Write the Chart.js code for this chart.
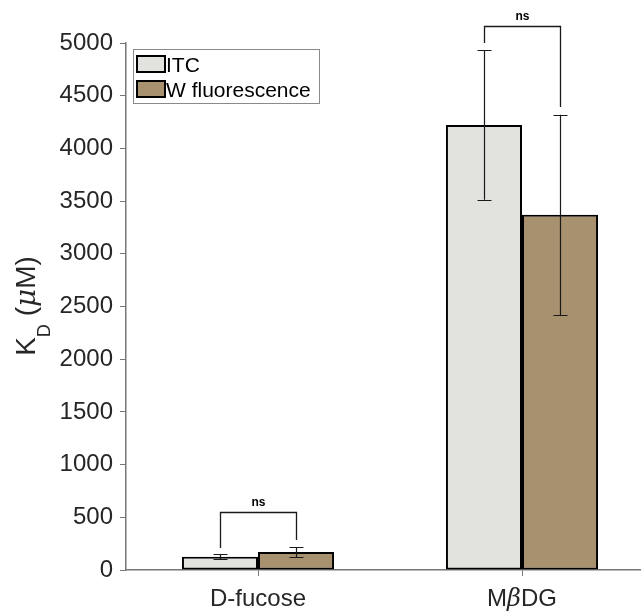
<!DOCTYPE html>
<html>
<head>
<meta charset="utf-8">
<script src="https://cdn.jsdelivr.net/npm/chart.js@4"></script>
<style>
  html, body { margin: 0; padding: 0; background: #fff; overflow: hidden; }
  #wrap { width: 641px; height: 613px; overflow: hidden; }
</style>
</head>
<body>
<div id="wrap"><canvas id="c" width="660" height="613"></canvas></div>
<script>
// ---- data ----
const categories = ['D-fucose', 'MβDG'];
const seriesNames = ['ITC', 'W fluorescence'];
const itcValues = [125, 4222];
const itcErrors = [25, 710];
const wValues = [171, 3370];
const wErrors = [48, 950];
const yTicks = [0, 500, 1000, 1500, 2000, 2500, 3000, 3500, 4000, 4500, 5000];
// significance brackets: top value, left leg end, right leg end, label
const bracketTop = [550, 5165];
const bracketLeftEnd = [209, 5000];
const bracketRightEnd = [285, 4393];
const bracketLabels = ['ns', 'ns'];

const colors = ['#e2e3df', '#a8916f'];
const FONT = '"Liberation Sans", Arial, Helvetica, sans-serif';

function drawRich(ctx, parts, x, y, align) {
  let total = 0;
  parts.forEach(p => { ctx.font = p[1]; total += ctx.measureText(p[0]).width; });
  let pos = align === 'center' ? x - total / 2 : x;
  ctx.textAlign = 'left';
  parts.forEach(p => {
    ctx.font = p[1];
    ctx.fillText(p[0], pos, y + (p[2] || 0));
    pos += ctx.measureText(p[0]).width;
  });
}

const errorPlugin = {
  id: 'errs',
  afterDatasetsDraw(chart) {
    const ctx = chart.ctx;
    const y = chart.scales.y;
    const errs = [itcErrors, wErrors];
    ctx.save();
    ctx.strokeStyle = '#1a1a1a';
    ctx.lineWidth = 1.2;
    chart.data.datasets.forEach((ds, di) => {
      const meta = chart.getDatasetMeta(di);
      meta.data.forEach((bar, i) => {
        const v = ds.data[i], e = errs[di][i];
        const x = Math.round(bar.x) + 0.5;
        const yl = y.getPixelForValue(v - e), yh = y.getPixelForValue(v + e);
        ctx.beginPath();
        ctx.moveTo(x, yl); ctx.lineTo(x, yh);
        ctx.moveTo(x - 7, Math.round(yl) + 0.5); ctx.lineTo(x + 7, Math.round(yl) + 0.5);
        ctx.moveTo(x - 7, Math.round(yh) + 0.5); ctx.lineTo(x + 7, Math.round(yh) + 0.5);
        ctx.stroke();
      });
    });
    // brackets
    const m0 = chart.getDatasetMeta(0), m1 = chart.getDatasetMeta(1);
    ctx.lineWidth = 1.3;
    categories.forEach((c, i) => {
      const x0 = Math.round(m0.data[i].x) + 0.5, x1 = Math.round(m1.data[i].x) + 0.5;
      const yt = Math.round(y.getPixelForValue(bracketTop[i])) + 0.5;
      ctx.beginPath();
      ctx.moveTo(x0, y.getPixelForValue(bracketLeftEnd[i]));
      ctx.lineTo(x0, yt); ctx.lineTo(x1, yt);
      ctx.lineTo(x1, y.getPixelForValue(bracketRightEnd[i]));
      ctx.stroke();
      ctx.fillStyle = '#000';
      ctx.font = 'bold 12px ' + FONT;
      ctx.textAlign = 'center';
      ctx.textBaseline = 'alphabetic';
      ctx.fillText(bracketLabels[i], (x0 + x1) / 2, yt - 7);
    });
    ctx.restore();
  },
  afterDraw(chart) {
    const ctx = chart.ctx;
    ctx.save();
    // x category labels (with italic beta)
    const xs = chart.scales.x;
    ctx.fillStyle = '#262626';
    ctx.textBaseline = 'alphabetic';
    categories.forEach((c, i) => {
      const cx = xs.getPixelForTick(i);
      const parts = [];
      c.split(/(β)/).forEach(seg => {
        if (!seg) return;
        if (seg === 'β') parts.push([seg, 'italic 24px "DejaVu Serif", serif']);
        else parts.push([seg, '24px ' + FONT]);
      });
      drawRich(ctx, parts, cx, 606, 'center');
    });
    // legend
    ctx.fillStyle = '#fff';
    ctx.fillRect(133.5, 49.5, 186, 54);
    ctx.strokeStyle = '#8a8a8a';
    ctx.lineWidth = 1;
    ctx.strokeRect(133.5, 49.5, 186, 54);
    const sy = [56, 81];
    seriesNames.forEach((n, i) => {
      ctx.fillStyle = colors[i];
      ctx.fillRect(137, sy[i], 28, 16);
      ctx.strokeStyle = '#000';
      ctx.lineWidth = 2;
      ctx.strokeRect(137, sy[i], 28, 16);
      ctx.fillStyle = '#000';
      ctx.font = '21px ' + FONT;
      ctx.textAlign = 'left';
      ctx.textBaseline = 'alphabetic';
      ctx.fillText(n, 166, sy[i] + 16);
    });
    // y title  K_D (μM)
    ctx.translate(35, 0);
    ctx.rotate(-Math.PI / 2);
    ctx.fillStyle = '#262626';
    ctx.textBaseline = 'alphabetic';
    const parts = [
      ['K', '28px ' + FONT, 0],
      ['D', '18px ' + FONT, 15],
      [' (', '28px ' + FONT, 0],
      ['μ', 'italic 28px "DejaVu Serif", serif', 0],
      ['M)', '28px ' + FONT, 0]
    ];
    drawRich(ctx, parts, -306, 0, 'center');
    ctx.restore();
  }
};

new Chart(document.getElementById('c'), {
  type: 'bar',
  data: {
    labels: categories,
    datasets: [
      { label: seriesNames[0], data: itcValues, backgroundColor: colors[0], borderColor: '#000', borderWidth: 2, borderSkipped: false },
      { label: seriesNames[1], data: wValues, backgroundColor: colors[1], borderColor: '#000', borderWidth: 2, borderSkipped: false }
    ]
  },
  options: {
    responsive: false,
    devicePixelRatio: 1,
    animation: false,
    layout: { padding: { top: 43, right: 6, left: 0, bottom: 0 } },
    datasets: { bar: { barPercentage: 1, categoryPercentage: 0.576 } },
    plugins: { legend: { display: false }, tooltip: { enabled: false } },
    scales: {
      x: {
        grid: { display: true, offset: false, drawOnChartArea: false, drawTicks: true, tickLength: 6, color: '#777' },
        border: { display: true, color: '#777', width: 1.5 },
        ticks: { display: false },
        afterFit(s) { s.height = 43; }
      },
      y: {
        min: 0, max: 5000,
        afterBuildTicks(s) { s.ticks = yTicks.map(v => ({ value: v })); },
        grid: { display: true, drawOnChartArea: false, drawTicks: true, tickLength: 6, color: '#777' },
        border: { display: true, color: '#777', width: 1.5 },
        ticks: { color: '#262626', font: { size: 24, family: FONT }, padding: 7, callback: v => String(v) },
        afterFit(s) { s.width = 126; }
      }
    }
  },
  plugins: [errorPlugin]
});
</script>
</body>
</html>
